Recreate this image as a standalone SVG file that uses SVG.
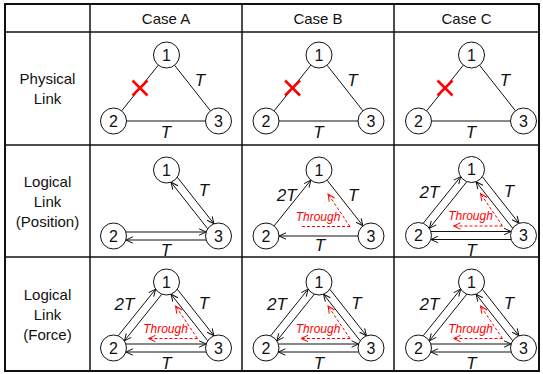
<svg xmlns="http://www.w3.org/2000/svg" width="543" height="374" viewBox="0 0 543 374">
<style>
.grid{stroke:#111;stroke-width:1.5;fill:none}
.outer{stroke:#111;stroke-width:2;fill:none}
.hd{font-family:"Liberation Sans",Arial,sans-serif;font-size:15px;fill:#111;text-anchor:middle}
.e{stroke:#111;stroke-width:1;fill:none}
.a{marker-end:url(#ah)}
.thr{stroke:#f00;stroke-width:1;stroke-dasharray:3 2;fill:none}
.ta{marker-end:url(#rh)}
.lb{font-family:"Liberation Sans",Arial,sans-serif;font-size:17px;font-style:italic;fill:#111;text-anchor:middle}
.th{font-family:"Liberation Sans",Arial,sans-serif;font-size:12px;font-style:italic;fill:#f00;text-anchor:middle}
.x{stroke:#f00;stroke-width:2.5}
</style>
<defs>
<marker id="ah" markerUnits="userSpaceOnUse" markerWidth="9" markerHeight="9" refX="8" refY="4" orient="auto">
<path d="M1,0.8 L8,4 L1,7.2" fill="none" stroke="#111" stroke-width="1"/>
</marker>
<marker id="rh" markerUnits="userSpaceOnUse" markerWidth="9" markerHeight="9" refX="8" refY="4" orient="auto">
<path d="M1,0.8 L8,4 L1,7.2" fill="none" stroke="#f00" stroke-width="1"/>
</marker>
<g id="n1"><circle cx="0" cy="0" r="13" fill="#fff" stroke="#111" stroke-width="1"/><text x="0" y="5.8" font-family="Liberation Sans, Arial, sans-serif" font-size="16" fill="#111" text-anchor="middle">1</text></g>
<g id="n2"><circle cx="-53" cy="66" r="13" fill="#fff" stroke="#111" stroke-width="1"/><text x="-53" y="71.8" font-family="Liberation Sans, Arial, sans-serif" font-size="16" fill="#111" text-anchor="middle">2</text></g>
<g id="n3"><circle cx="52" cy="66" r="13" fill="#fff" stroke="#111" stroke-width="1"/><text x="52" y="71.8" font-family="Liberation Sans, Arial, sans-serif" font-size="16" fill="#111" text-anchor="middle">3</text></g>
</defs>

<g id="table">
<rect class="outer" x="5" y="4" width="534" height="367"/>
<line class="grid" x1="90" y1="4" x2="90" y2="371"/>
<line class="grid" x1="242" y1="4" x2="242" y2="371"/>
<line class="grid" x1="394" y1="4" x2="394" y2="371"/>
<line class="grid" x1="5" y1="32" x2="539" y2="32"/>
<line class="grid" x1="5" y1="145" x2="539" y2="145"/>
<line class="grid" x1="5" y1="257" x2="539" y2="257"/>
<text class="hd" x="166" y="23.5">Case A</text>
<text class="hd" x="318" y="23.5">Case B</text>
<text class="hd" x="466.5" y="23.5">Case C</text>
<text class="hd" x="47.5" y="84">Physical</text>
<text class="hd" x="47.5" y="104">Link</text>
<text class="hd" x="47.5" y="186.5">Logical</text>
<text class="hd" x="47.5" y="206.5">Link</text>
<text class="hd" x="47.5" y="226.5">(Position)</text>
<text class="hd" x="47.5" y="299.5">Logical</text>
<text class="hd" x="47.5" y="319.5">Link</text>
<text class="hd" x="47.5" y="339.5">(Force)</text>
</g>

<!-- Physical row -->
<g id="phys-A" transform="translate(166.5,55)">
<g id="phys-A-connectors">
<line class="e" x1="-8.14" y1="10.14" x2="-44.86" y2="55.86"/>
<line class="e" x1="8.05" y1="10.21" x2="43.95" y2="55.79"/>
<line class="e" x1="-40" y1="66" x2="39" y2="66"/>
<line class="x" x1="-34" y1="25.5" x2="-19" y2="40.5"/><line class="x" x1="-19" y1="25.5" x2="-34" y2="40.5"/>
<text class="lb" x="33.5" y="31">T</text><text class="lb" x="-0.5" y="82.7">T</text>
</g>
<g id="phys-A-1"><use href="#n1"/></g>
<g id="phys-A-2"><use href="#n2"/></g>
<g id="phys-A-3"><use href="#n3"/></g>
</g>
<g id="phys-B" transform="translate(319,55)">
<g id="phys-B-connectors">
<line class="e" x1="-8.14" y1="10.14" x2="-44.86" y2="55.86"/>
<line class="e" x1="8.05" y1="10.21" x2="43.95" y2="55.79"/>
<line class="e" x1="-40" y1="66" x2="39" y2="66"/>
<line class="x" x1="-34" y1="25.5" x2="-19" y2="40.5"/><line class="x" x1="-19" y1="25.5" x2="-34" y2="40.5"/>
<text class="lb" x="33.5" y="31">T</text><text class="lb" x="-0.5" y="82.7">T</text>
</g>
<g id="phys-B-1"><use href="#n1"/></g>
<g id="phys-B-2"><use href="#n2"/></g>
<g id="phys-B-3"><use href="#n3"/></g>
</g>
<g id="phys-C" transform="translate(471.5,55)">
<g id="phys-C-connectors">
<line class="e" x1="-8.14" y1="10.14" x2="-44.86" y2="55.86"/>
<line class="e" x1="8.05" y1="10.21" x2="43.95" y2="55.79"/>
<line class="e" x1="-40" y1="66" x2="39" y2="66"/>
<line class="x" x1="-34" y1="25.5" x2="-19" y2="40.5"/><line class="x" x1="-19" y1="25.5" x2="-34" y2="40.5"/>
<text class="lb" x="33.5" y="31">T</text><text class="lb" x="-0.5" y="82.7">T</text>
</g>
<g id="phys-C-1"><use href="#n1"/></g>
<g id="phys-C-2"><use href="#n2"/></g>
<g id="phys-C-3"><use href="#n3"/></g>
</g>

<!-- Position row -->
<g id="pos-A" transform="translate(166.5,170)">
<g id="pos-A-connectors">
<line class="e a" x1="10.82" y1="7.26" x2="47.47" y2="53.78"/>
<line class="e a" x1="41.18" y1="58.74" x2="4.53" y2="12.22"/>
<line class="e a" x1="-40.6" y1="62" x2="39.6" y2="62"/>
<line class="e a" x1="39.6" y1="70" x2="-40.6" y2="70"/>
<text class="lb" x="37.5" y="26.3">T</text><text class="lb" x="-0.5" y="86">T</text>
</g>
<g id="pos-A-1"><use href="#n1"/></g>
<g id="pos-A-2"><use href="#n2"/></g>
<g id="pos-A-3"><use href="#n3"/></g>
</g>
<g id="pos-B" transform="translate(319,170)">
<g id="pos-B-connectors">
<line class="e a" x1="-44.86" y1="55.86" x2="-8.14" y2="10.14"/>
<line class="e a" x1="8.05" y1="10.21" x2="43.95" y2="55.79"/>
<line class="e a" x1="39" y1="66" x2="-40" y2="66"/>
<line class="thr" x1="31" y1="56.5" x2="-19" y2="56.5"/>
<line class="thr ta" x1="31" y1="56.5" x2="9" y2="24"/>
<text class="th" x="-1" y="50.5">Through</text>
<text class="lb" x="-32.3" y="31">2T</text><text class="lb" x="34.3" y="31">T</text><text class="lb" x="1" y="81">T</text>
</g>
<g id="pos-B-1"><use href="#n1"/></g>
<g id="pos-B-2"><use href="#n2"/></g>
<g id="pos-B-3"><use href="#n3"/></g>
</g>
<g id="pos-C" transform="translate(471.5,169.5)">
<g id="pos-C-connectors">
<line class="e a" x1="-48.36" y1="53.83" x2="-10.88" y2="7.16"/>
<line class="e a" x1="-4.65" y1="12.17" x2="-42.12" y2="58.84"/>
<line class="e a" x1="10.82" y1="7.26" x2="47.47" y2="53.78"/>
<line class="e a" x1="41.18" y1="58.74" x2="4.53" y2="12.22"/>
<line class="e a" x1="-40.6" y1="62" x2="39.6" y2="62"/>
<line class="e a" x1="39.6" y1="70" x2="-40.6" y2="70"/>
<line class="thr ta" x1="31" y1="56.5" x2="-18" y2="56.5"/>
<line class="thr ta" x1="31" y1="56.5" x2="9" y2="24"/>
<text class="th" x="-1" y="50.5">Through</text>
<text class="lb" x="-42" y="28.3">2T</text><text class="lb" x="37.5" y="27.3">T</text><text class="lb" x="0" y="86.8">T</text>
</g>
<g id="pos-C-1"><use href="#n1"/></g>
<g id="pos-C-2"><use href="#n2"/></g>
<g id="pos-C-3"><use href="#n3"/></g>
</g>

<!-- Force row -->
<g id="force-A" transform="translate(166.5,282)">
<g id="force-A-connectors">
<line class="e a" x1="-48.36" y1="53.83" x2="-10.88" y2="7.16"/>
<line class="e a" x1="-4.65" y1="12.17" x2="-42.12" y2="58.84"/>
<line class="e a" x1="10.82" y1="7.26" x2="47.47" y2="53.78"/>
<line class="e a" x1="41.18" y1="58.74" x2="4.53" y2="12.22"/>
<line class="e a" x1="-40.6" y1="62" x2="39.6" y2="62"/>
<line class="e a" x1="39.6" y1="70" x2="-40.6" y2="70"/>
<line class="thr ta" x1="31" y1="56.5" x2="-18" y2="56.5"/>
<line class="thr ta" x1="31" y1="56.5" x2="9" y2="24"/>
<text class="th" x="-1" y="50.5">Through</text>
<text class="lb" x="-42" y="28.3">2T</text><text class="lb" x="37.5" y="27.3">T</text><text class="lb" x="0" y="86.5">T</text>
</g>
<g id="force-A-1"><use href="#n1"/></g>
<g id="force-A-2"><use href="#n2"/></g>
<g id="force-A-3"><use href="#n3"/></g>
</g>
<g id="force-B" transform="translate(319,282)">
<g id="force-B-connectors">
<line class="e a" x1="-48.36" y1="53.83" x2="-10.88" y2="7.16"/>
<line class="e a" x1="-4.65" y1="12.17" x2="-42.12" y2="58.84"/>
<line class="e a" x1="10.82" y1="7.26" x2="47.47" y2="53.78"/>
<line class="e a" x1="41.18" y1="58.74" x2="4.53" y2="12.22"/>
<line class="e a" x1="-40.6" y1="62" x2="39.6" y2="62"/>
<line class="e a" x1="39.6" y1="70" x2="-40.6" y2="70"/>
<line class="thr ta" x1="31" y1="56.5" x2="-18" y2="56.5"/>
<line class="thr ta" x1="31" y1="56.5" x2="9" y2="24"/>
<text class="th" x="-1" y="50.5">Through</text>
<text class="lb" x="-42" y="28.3">2T</text><text class="lb" x="37.5" y="27.3">T</text><text class="lb" x="0" y="86.5">T</text>
</g>
<g id="force-B-1"><use href="#n1"/></g>
<g id="force-B-2"><use href="#n2"/></g>
<g id="force-B-3"><use href="#n3"/></g>
</g>
<g id="force-C" transform="translate(471.5,282)">
<g id="force-C-connectors">
<line class="e a" x1="-48.36" y1="53.83" x2="-10.88" y2="7.16"/>
<line class="e a" x1="-4.65" y1="12.17" x2="-42.12" y2="58.84"/>
<line class="e a" x1="10.82" y1="7.26" x2="47.47" y2="53.78"/>
<line class="e a" x1="41.18" y1="58.74" x2="4.53" y2="12.22"/>
<line class="e a" x1="-40.6" y1="62" x2="39.6" y2="62"/>
<line class="e a" x1="39.6" y1="70" x2="-40.6" y2="70"/>
<line class="thr ta" x1="31" y1="56.5" x2="-18" y2="56.5"/>
<line class="thr ta" x1="31" y1="56.5" x2="9" y2="24"/>
<text class="th" x="-1" y="50.5">Through</text>
<text class="lb" x="-42" y="28.3">2T</text><text class="lb" x="37.5" y="27.3">T</text><text class="lb" x="0" y="86.5">T</text>
</g>
<g id="force-C-1"><use href="#n1"/></g>
<g id="force-C-2"><use href="#n2"/></g>
<g id="force-C-3"><use href="#n3"/></g>
</g>
</svg>
